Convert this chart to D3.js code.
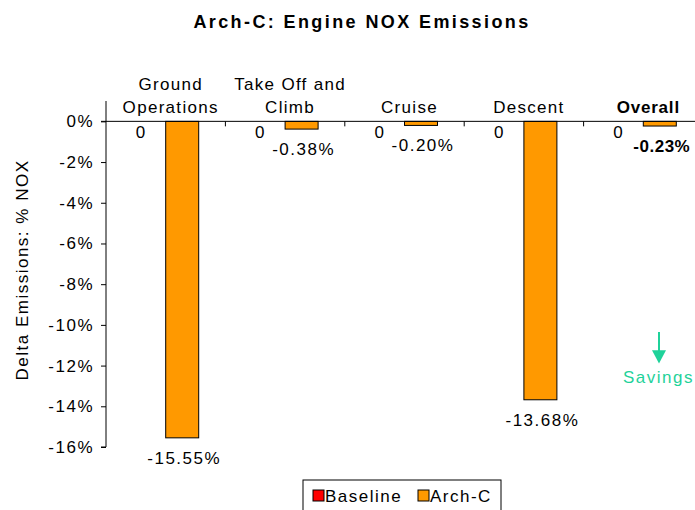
<!DOCTYPE html>
<html>
<head>
<meta charset="utf-8">
<script src="https://cdnjs.cloudflare.com/ajax/libs/d3/7.8.5/d3.min.js"></script>
<style>
  body { margin: 0; background: #fff; }
  svg { display: block; font-family: "Liberation Sans", Arial, sans-serif; }
  .lbl { font-size: 17px; letter-spacing: 1.5px; }
</style>
</head>
<body>
<svg id="chart" width="695" height="510"></svg>
<script>
// data
var categories = ['Ground Operations', 'Take Off and Climb', 'Cruise', 'Descent', 'Overall'];
var categoryLines = [['Ground', 'Operations'], ['Take Off and', 'Climb'], ['Cruise'], ['Descent'], ['Overall']];
var seriesNames = ['Baseline', 'Arch-C'];
var baselineValues = [0, 0, 0, 0, 0];
var archCValues = [-15.55, -0.38, -0.20, -13.68, -0.23];
var yTicks = [0, -2, -4, -6, -8, -10, -12, -14, -16];
var seriesColors = ['#ff0000', '#ff9900'];

var svg = d3.select('#chart');
var margin = {left: 106, top: 101, right: -8, bottom: 63};
var width = 695 - margin.left - margin.right,
    height = 510 - margin.top - margin.bottom;

var x = d3.scaleBand().domain(categories).range([margin.left, margin.left + width]).padding(0);
var y = d3.scaleLinear().domain([1, -16]).range([margin.top, margin.top + height]);
var barW = 33;
var fmt = function(v) { return d3.format('.2f')(v).replace('\u2212', '-') + '%'; };

var g = svg.append('g');

// title
svg.append('text')
    .attr('x', 362).attr('y', 28)
    .attr('text-anchor', 'middle')
    .style('font-size', '18px').style('font-weight', 'bold').style('letter-spacing', '2.4px')
    .text('Arch-C: Engine NOX Emissions');

// y axis
var yAxis = d3.axisLeft(y).tickValues(yTicks).tickSize(5).tickFormat(function(d) { return String(d).replace('\u2212', '-') + '%'; });
var ya = g.append('g').attr('transform', 'translate(' + margin.left + ',0)').call(yAxis);
ya.select('.domain').attr('d', 'M0,' + margin.top + 'V' + y(-16) + 'H-5');
ya.selectAll('.tick line').attr('stroke', '#000');
ya.selectAll('.tick text').attr('x', -12).attr('fill', '#000').attr('class', 'lbl')
    .style('font-family', '"Liberation Sans", Arial, sans-serif');

svg.append('text')
    .attr('transform', 'translate(28,' + 270 + ') rotate(-90)')
    .attr('text-anchor', 'middle')
    .attr('class', 'lbl')
    .text('Delta Emissions: % NOX');

// bars
var groups = g.selectAll('.grp').data(categories).enter().append('g').attr('class', 'grp');

groups.each(function(c, i) {
    var sel = d3.select(this);
    var cx = x(c) + x.bandwidth() / 2;
    var vals = [baselineValues[i], archCValues[i]];
    vals.forEach(function(v, k) {
        var bx = cx + (k - 1) * barW;
        sel.append('rect')
            .attr('x', bx).attr('y', y(0))
            .attr('width', barW).attr('height', Math.max(0, y(v) - y(0)))
            .attr('fill', seriesColors[k]).attr('stroke', v === 0 ? 'none' : '#000').attr('stroke-width', 1);
        var bold = i === categories.length - 1 && k === 1;
        sel.append('text')
            .attr('x', bx + barW / 2 + (v === 0 ? -8 : 2))
            .attr('y', v === 0 ? y(0) + 17 : y(v) + 26)
            .attr('text-anchor', 'middle')
            .attr('class', 'lbl')
            .style('font-weight', bold ? 'bold' : 'normal')
            .style('letter-spacing', bold ? '0.5px' : null)
            .text(v === 0 ? '0' : fmt(v));
    });
});

// x axis at zero
var xa = g.append('g').attr('transform', 'translate(0,' + y(0) + ')');
xa.append('line').attr('x1', margin.left - 5).attr('x2', 695).attr('stroke', '#000');
xa.selectAll('.xt').data(categories.slice(1)).enter().append('line')
    .attr('x1', function(d) { return x(d); }).attr('x2', function(d) { return x(d); })
    .attr('y1', 0).attr('y2', 5).attr('stroke', '#000');

// category labels
groups.each(function(c, i) {
    var lines = categoryLines[i];
    var cx = x(c) + x.bandwidth() / 2 + 5;
    var last = i === categories.length - 1;
    var t = d3.select(this).append('text')
        .attr('text-anchor', 'middle')
        .attr('class', 'lbl')
        .style('font-weight', last ? 'bold' : 'normal')
        .style('letter-spacing', last ? '0.8px' : '1.3px');
    lines.forEach(function(l, j) {
        t.append('tspan').attr('x', cx).attr('y', y(0) - 8 - (lines.length - 1 - j) * 23).text(l);
    });
});

// savings annotation
var sv = svg.append('g').attr('fill', '#1fd29a').attr('stroke', '#1fd29a');
sv.append('line').attr('x1', 659).attr('x2', 659).attr('y1', y(-10.35)).attr('y2', y(-11.3)).attr('stroke-width', 2);
sv.append('path').attr('stroke', 'none').attr('d', 'M652,' + y(-11.25) + 'L666,' + y(-11.25) + 'L659,' + y(-11.9) + 'Z');
sv.append('text').attr('stroke', 'none').attr('x', 623).attr('y', y(-12.86)).attr('class', 'lbl').text('Savings');

// legend
var lg = svg.append('g').attr('transform', 'translate(303,480)');
lg.append('rect').attr('x', 0).attr('y', 0).attr('width', 198).attr('height', 40).attr('fill', '#fff').attr('stroke', '#000');
var lx = [10, 115];
seriesNames.forEach(function(n, k) {
    lg.append('rect').attr('x', lx[k]).attr('y', 10).attr('width', 11).attr('height', 11)
        .attr('fill', seriesColors[k]).attr('stroke', '#000');
    lg.append('text').attr('x', lx[k] + 12).attr('y', 22).attr('class', 'lbl').text(n);
});
</script>
</body>
</html>
